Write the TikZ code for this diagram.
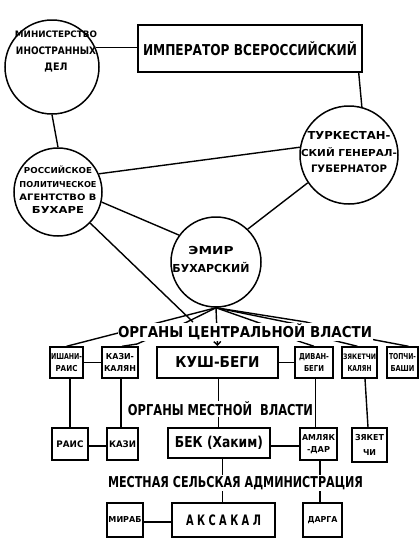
\documentclass[tikz,border=0pt]{standalone}
\usepackage{fontspec}
\setmainfont{DejaVu Sans}
\usepackage{graphicx}
\usetikzlibrary{arrows.meta,calc}
\newcommand\tl[3]{\resizebox{#1pt}{\height}{\fontsize{#2}{#2}\selectfont\bfseries #3}}
\begin{document}
\begin{tikzpicture}[x=1pt,y=-1pt,
  circ/.style={circle,draw,line width=1.5pt,inner sep=0pt},
  box/.style={rectangle,draw,line width=1.4pt,inner sep=0pt,align=center},
  bbox/.style={box,line width=2pt},
  txt/.style={inner sep=0pt,align=center},
  lab/.style={fill=white,inner ysep=1pt,inner xsep=0.5pt},
  conn/.style={line width=1.4pt}]
\useasboundingbox (0,0) rectangle (420,539);

% circles
\node[circ,minimum size=94pt] (min) at (52,67) {};
\node[txt,font=\fontsize{8}{16.5}\selectfont] (mint) at (56,51.5)
  {\tl{82}{8.9}{МИНИСТЕРСТВО}\\\tl{80}{10.3}{ИНОСТРАННЫХ}\\\tl{23}{10.3}{ДЕЛ}};
\node[circ,minimum size=88pt] (agency) at (58,192) {};
\node[txt,font=\fontsize{7}{13.3}\selectfont] (agt) at (58,190)
  {\tl{68}{8.2}{РОССИЙСКОЕ}\\\tl{77}{8.2}{ПОЛИТИЧЕСКОЕ}\\\tl{77}{8.9}{АГЕНТСТВО В}\\\tl{52}{9.6}{БУХАРЕ}};
\node[circ,minimum size=98pt] (turk) at (349,155) {};
\node[txt,font=\fontsize{8}{16.5}\selectfont] (turkt) at (349,152)
  {\tl{83}{11}{ТУРКЕСТАН-}\\\tl{96}{9.6}{СКИЙ ГЕНЕРАЛ-}\\\tl{76}{10.3}{ГУБЕРНАТОР}};
\node[circ,minimum size=90pt] (emir) at (216,262) {};
\node[txt,font=\fontsize{8}{18}\selectfont] (emirt) at (211,259)
  {\tl{45}{11}{ЭМИР}\\\tl{77}{11}{БУХАРСКИЙ}};

% boxes
\node[box,minimum width=224pt,minimum height=47pt] (emp) at (250,48.5)
  {\tl{214}{15}{ИМПЕРАТОР ВСЕРОССИЙСКИЙ}};
\node[box,minimum width=33pt,minimum height=31pt,font=\fontsize{6}{11.5}\selectfont] (ish) at (66.5,362.5)
  {\tl{31}{8.2}{ИШАНИ-}\\\tl{22}{8.2}{РАИС}};
\node[box,minimum width=36pt,minimum height=31pt,font=\fontsize{6}{11.5}\selectfont] (kk) at (120,362.5)
  {\tl{28}{8.2}{КАЗИ-}\\\tl{32}{8.2}{КАЛЯН}};
\node[bbox,minimum width=121pt,minimum height=31pt] (kush) at (217.5,362.5)
  {\tl{84}{15}{КУШ-БЕГИ}};
\node[box,minimum width=38pt,minimum height=31pt,font=\fontsize{6}{11.5}\selectfont] (divan) at (314,362.5)
  {\tl{30}{8.2}{ДИВАН-}\\\tl{20}{8.2}{БЕГИ}};
\node[box,minimum width=35pt,minimum height=31pt,font=\fontsize{6}{11.5}\selectfont] (zyak) at (359.5,362.5)
  {\tl{33}{7.5}{ЗЯКЕТЧИ}\\\tl{24}{8.2}{КАЛЯН}};
\node[box,minimum width=31pt,minimum height=31pt,font=\fontsize{6}{11.5}\selectfont] (topchi) at (402.5,362.5)
  {\tl{27}{8.2}{ТОПЧИ-}\\\tl{24}{8.2}{БАШИ}};
\node[box,minimum width=36pt,minimum height=32pt] (rais) at (70,444)
  {\tl{27}{9}{РАИС}};
\node[box,minimum width=31pt,minimum height=32pt] (kazi) at (122.5,444)
  {\tl{27}{9}{КАЗИ}};
\node[bbox,minimum width=102pt,minimum height=30pt] (bek) at (219,443)
  {\tl{88}{15}{БЕК (Хаким)}};
\node[box,minimum width=37pt,minimum height=32pt,font=\fontsize{6}{12}\selectfont] (amlyak) at (318.5,444)
  {\tl{33}{8.2}{АМЛЯК}\\\tl{23}{8.2}{-ДАР}};
\node[box,minimum width=35pt,minimum height=34pt,font=\fontsize{6}{15}\selectfont] (zyak2) at (369.5,445)
  {\tl{29}{8.2}{ЗЯКЕТ}\\\tl{13}{8.2}{ЧИ}};
\node[box,minimum width=36pt,minimum height=34pt] (mirab) at (125,520)
  {\tl{33}{8.2}{МИРАБ}};
\node[bbox,minimum width=103pt,minimum height=34pt] (aksakal) at (223.5,520)
  {\tl{75}{14.4}{А К С А К А Л}};
\node[box,minimum width=39pt,minimum height=34pt] (darga) at (322.5,520)
  {\tl{30}{8.2}{ДАРГА}};

% upper connections
\draw[conn] (min.24) -- (min.24 -| emp.west);
\draw[conn] (min.south) -- (agency.north);
\draw[conn] ($(emp.south east)+(-4,0)$) -- (turk.75);
\draw[conn] (agency.24) -- (turk.171);
\draw[conn] (agency.-13) -- (emir.144);
\draw[conn] (turk.214) -- (emir.46);
\coordinate (agend) at (193,322);
\draw[conn] (agency.-44) -- (agend);

% fan from the emir
\coordinate (hub) at (emir.south);
\coordinate (f2a) at (187,322); \coordinate (f2b) at (137,344);
\coordinate (f4a) at (268,326); \coordinate (f4b) at (298,341);
\coordinate (f5a) at (296,324); \coordinate (f5b) at (328,339);
\coordinate (f6a) at (306,322); \coordinate (f6b) at (370,339);
\draw[conn] (hub) -- (ish.north);
\draw[conn] (hub) -- (f2a) -- (f2b) -- ([xshift=2pt]kk.north);
\draw[conn,-{Straight Barb[length=3.5pt,width=7pt]}] (hub) -- (kush.north);
\draw[conn] (hub) -- (f4a) -- (f4b) -- (divan.north);
\draw[conn] (hub) -- (f5a) -- (f5b) -- ([xshift=-2pt]zyak.north);
\draw[conn] (hub) -- (f6a) -- (f6b) -- ([xshift=6pt]topchi.north);

% horizontal links
\draw[conn] (ish.east) -- (kk.west);
\draw[conn] (kush.east) -- (divan.west);
\draw[conn] ([yshift=-2pt]rais.east) -- ([yshift=-2pt]rais.east -| kazi.west);
\draw[conn] ([yshift=-3pt]bek.east) -- ([yshift=-3pt]bek.east -| amlyak.west);
\draw[conn] ([yshift=-2pt]mirab.east) -- ([yshift=-2pt]mirab.east -| aksakal.west);

% vertical links
\draw[conn] (rais.north) -- (rais.north |- ish.south);
\draw[conn] ([xshift=-1.5pt]kazi.north) -- ([xshift=-1.5pt]kazi.north |- kk.south);
\draw[conn] ([xshift=1pt]kush.south) -- ([xshift=1pt]kush.south |- bek.north);
\draw[conn] ([xshift=1.5pt]divan.south) -- ([xshift=1.5pt]divan.south |- amlyak.north);
\draw[conn] ([xshift=5.5pt]zyak.south) -- ([xshift=-1.5pt]zyak2.north);
\draw[conn] ([xshift=-1pt]aksakal.north) -- ([xshift=-1pt]aksakal.north |- bek.south);
\draw[conn] ([xshift=-2.5pt]darga.north) -- ([xshift=-2.5pt]darga.north |- amlyak.south);

% level labels
\node[lab] (lab1) at (245,332) {\tl{254}{15}{ОРГАНЫ ЦЕНТРАЛЬНОЙ ВЛАСТИ}};
\node[lab] (lab2) at (220.5,409) {\tl{185}{15}{ОРГАНЫ МЕСТНОЙ\ \ ВЛАСТИ}};
\node[lab] (lab3) at (235.5,483) {\tl{255}{15}{МЕСТНАЯ СЕЛЬСКАЯ АДМИНИСТРАЦИЯ}};
\end{tikzpicture}
\end{document}
